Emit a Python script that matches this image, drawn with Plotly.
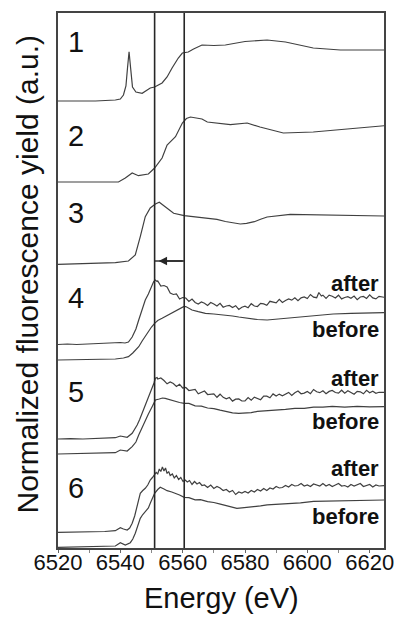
import plotly.graph_objects as go

# ---------------- data (energy in eV, stacked normalized yield in a.u.) ----------------
e1 = [6520, 6532, 6538.4, 6540.0, 6541.0, 6541.8, 6542.3, 6542.8, 6543.3, 6543.9, 6545.0, 6547.0,
      6549.6, 6551.0, 6553.4, 6555.0, 6556.6, 6558.6, 6559.9, 6561.8, 6563.5, 6566.2, 6570, 6573.7,
      6580, 6587.1, 6593, 6601.9, 6610.6, 6624.7]
s1 = [447, 447, 448, 449, 453, 462, 480, 496.3, 480, 461, 456, 454.7,
      460, 461, 465, 471, 480, 490, 495, 496, 499, 503, 502.5, 503,
      506.5, 508, 506, 500, 498, 498]

e2 = [6520, 6539.4, 6541.6, 6543.8, 6545.8, 6549.0, 6551.0, 6553.4, 6555.0, 6557.7, 6559.9, 6561.2,
      6562.5, 6566.2, 6567.9, 6571, 6575.3, 6580.7, 6584.8, 6592.3, 6601.9, 6612.8, 6624.7]
s2 = [366, 366, 370, 375, 372.3, 374, 380, 390, 403, 411.3, 425, 429.5,
      431, 429, 426, 425, 423.3, 425, 421, 415, 416, 419, 422.3]

e3 = [6520, 6538.4, 6542.6, 6544.8, 6546.4, 6548.0, 6549.6, 6551.25, 6552.5, 6554.4, 6557.1, 6560.5,
      6566.2, 6571, 6573.7, 6576, 6578.5, 6580.5, 6583, 6585, 6587.1, 6594.5, 6608.3, 6624.7]
s3 = [283.7, 285.3, 287, 293, 311.3, 331.3, 340, 344, 345.7, 341.3, 334.7, 332.3,
      330.7, 328.7, 326.5, 325, 324, 324.6, 326.3, 328.7, 331, 333.7, 333, 332]

e4_after = [6520, 6523, 6526, 6529, 6532, 6535, 6538, 6540, 6541.5, 6542.6, 6543.8, 6545, 6545.9,
            6547, 6548, 6549, 6549.6, 6550.2, 6550.7, 6551.2, 6551.8,
            6552, 6553, 6554, 6555, 6556, 6557, 6558, 6559, 6560, 6561, 6562, 6563, 6564, 6565,
            6566, 6567, 6568, 6569, 6570, 6571, 6572, 6573, 6574, 6575, 6576, 6577, 6578, 6579,
            6580, 6581, 6582, 6583, 6584, 6585, 6586, 6587, 6588, 6589, 6590, 6591, 6592, 6593,
            6594, 6595, 6596, 6597, 6598, 6599, 6600, 6601, 6602, 6603, 6603.7, 6604.5, 6605, 6606,
            6607, 6608, 6609, 6610, 6611, 6612, 6613, 6614, 6615, 6616, 6617, 6618, 6619, 6620,
            6621, 6622, 6623, 6624.7]
s4_after = [203.5, 204, 203.5, 204, 203.8, 204.5, 205, 205.5, 205, 206, 211, 219, 228,
            238, 248, 254, 258, 263, 266.5, 268, 266.5,
            267, 262, 262.5, 261, 255, 253.5, 254, 249, 250.5, 250, 246.5, 249, 245.5, 244,
            246, 244.8, 242.5, 245.5, 244, 242, 244.7, 240.8, 242, 242.5, 240.5, 242.3, 238.5, 240.8,
            241.8, 240.3, 244.3, 242, 241.5, 244.6, 244.1, 242.7, 246.7, 246.2, 245.1, 248.6, 245.5, 247.5,
            249, 247.9, 250.3, 247.3, 250.2, 251.1, 249.5, 253.5, 250.9, 250.3, 255.5, 252, 252.8, 249.6,
            252.9, 251.7, 250, 252.8, 249.1, 250.5, 251.4, 249.8, 251.9, 248.4, 251, 251.5, 249.5, 253.1,
            250.1, 249.1, 251.7, 250.7]

e4_before = [6520, 6525, 6530, 6535, 6538.4, 6541, 6542.6, 6544, 6545.9, 6547, 6548.6, 6550, 6551,
             6552, 6553.4, 6555, 6557.1, 6559, 6560.3, 6561, 6562, 6563, 6565, 6567.3, 6570, 6573.7,
             6576, 6578, 6581, 6584, 6587.1, 6590, 6594, 6597.8, 6602, 6608.3, 6614, 6619, 6624.7]
s4_before = [188, 188.3, 188, 188.5, 189, 190, 191.3, 195, 201.3, 207, 214.7, 221, 224.7,
             227.5, 229.7, 232.5, 236.3, 239, 241.3, 241.5, 240, 238, 236.3, 234.7, 234, 233,
             232, 231, 229.5, 228.5, 228, 228.8, 230, 231.3, 232.5, 234, 234.6, 235, 235.3]

e5_after = [6520, 6524, 6528, 6532, 6535, 6538.4, 6540, 6541, 6542.2, 6543.8, 6544.6, 6545.4, 6546.2,
            6547, 6547.8, 6548.6, 6549.4, 6550.2, 6550.8, 6551.25, 6551.8,
            6552, 6553, 6554, 6555, 6556, 6557, 6558, 6559, 6560, 6561, 6562, 6563, 6564, 6565,
            6566, 6567, 6568, 6569, 6570, 6571, 6572, 6573, 6574, 6575, 6576, 6577, 6578, 6579,
            6580, 6581, 6582, 6583, 6584, 6585, 6586, 6587, 6588, 6589, 6590, 6591, 6592, 6593,
            6594, 6595, 6596, 6597, 6598, 6599, 6600, 6601, 6602, 6603, 6604, 6605, 6606, 6607,
            6608, 6609, 6610, 6611, 6612, 6613, 6614, 6615, 6616, 6617, 6618, 6619, 6620, 6621,
            6622, 6623, 6624.7]
s5_after = [109, 109.4, 109, 109.3, 109.7, 110.3, 112, 111.2, 110.7, 114.7, 118.5, 123, 128.5,
            134.7, 141.5, 148, 154, 159.7, 165, 169.7, 170.5,
            169, 170, 167.5, 164.2, 166, 164.5, 161.5, 163.8, 160, 160.5, 157.5, 157.8, 158.5, 154.2,
            156, 157, 153.5, 153.5, 154.1, 150.7, 153.8, 150.7, 149.1, 150.5, 146.9, 148.8, 149.1, 147,
            147, 150.5, 147.9, 150.9, 149.8, 148.3, 151.8, 151.8, 150.2, 154.1, 152, 153.9, 152.3, 153.7,
            155.6, 152.5, 155.3, 157, 154.2, 154.9, 156.6, 154.3, 158.5, 156.2, 155.3, 157.2, 154.2, 156.6,
            157.5, 155.5, 154.9, 157.8, 154.8, 157.2, 155.7, 153.7, 156.7, 156.2, 154.2, 157.7, 155.2, 156.7,
            154.7, 155.7, 155.7]

e5_before = [6520, 6524, 6528, 6532, 6535, 6538.4, 6540, 6541, 6542.2, 6543.8, 6545, 6545.9, 6547,
             6548, 6549, 6550.2, 6551.25, 6552.5, 6553.5, 6554.4, 6556, 6557.7, 6559, 6560.5, 6562,
             6564, 6566, 6568, 6570, 6572, 6574, 6576, 6578, 6580, 6582, 6584, 6587, 6590, 6593,
             6596, 6599, 6602, 6605, 6608, 6612, 6616, 6620, 6624.7]
s5_before = [94, 94.3, 94, 94.2, 94.6, 95.3, 98, 97.5, 97, 101.3, 106, 113, 121,
             128, 134, 141.3, 148, 149, 150, 149.7, 148, 146.3, 145.5, 144.7, 144.6,
             142.2, 141.8, 140, 139.4, 137.8, 136.3, 135.2, 134.6, 135.2, 135.3, 136.7, 137.2, 138.3, 138.6,
             139.7, 139.6, 140.8, 140.8, 141.6, 140.9, 141.7, 141.1, 141.3]

e6_after = [6520, 6524, 6528, 6532, 6535, 6538.4, 6540, 6541, 6542.2, 6543, 6543.8, 6544.6, 6545.4,
            6546.4, 6547.2, 6548, 6548.8, 6549.6, 6550.3, 6551, 6551.5, 6552, 6552.5, 6553, 6553.5,
            6554, 6554.5, 6555, 6555.5, 6556, 6556.7, 6557.3, 6558, 6558.7, 6559.4, 6560.1, 6560.8,
            6561.5, 6562.2, 6563, 6563.8, 6564.6, 6565.4, 6566.2, 6567, 6568, 6569, 6570, 6571, 6572,
            6573, 6574, 6575, 6576, 6577, 6578, 6579, 6580, 6581, 6582, 6583, 6584, 6585, 6586, 6587,
            6588, 6589, 6590, 6591, 6592, 6593, 6594, 6595, 6596, 6597, 6598, 6599, 6600, 6601, 6602,
            6603, 6604, 6605, 6606, 6607, 6608, 6609, 6610, 6611, 6612, 6613, 6614, 6615, 6616, 6617,
            6618, 6619, 6620, 6621, 6622, 6623, 6624.7]
s6_after = [15.7, 16, 15.6, 16, 16.5, 17.3, 20.3, 19, 18, 20, 24.7, 32, 41.3,
            54.7, 57.5, 59.7, 63, 68, 70.5, 73, 75.5, 74, 79, 76.5, 81,
            77, 80, 74.5, 76.5, 72.5, 74, 70, 72.5, 68.5, 70.5, 66.5, 68,
            66, 67.5, 63.5, 66.5, 64, 65.5, 62.5, 63, 60.5, 63, 59.5, 61.5, 60,
            57.5, 58.5, 56, 57.5, 53.5, 56, 55, 56.5, 55, 57.5, 56, 58.5, 57, 59.5, 57.5,
            60, 59, 61.5, 60, 60.5, 62.5, 61, 63.5, 62, 62.5, 64.5, 62, 63, 61.5, 64,
            63, 62, 64.5, 62, 63.5, 61.5, 63, 64.5, 62, 62.5, 61, 63.5, 62, 63, 64.5,
            61.5, 62.5, 63.5, 61, 63, 62, 62.5]

e6_before = [6520, 6524, 6528, 6532, 6535, 6538.4, 6540, 6541, 6541.6, 6543.2, 6544, 6544.8, 6545.6,
             6546.4, 6547.2, 6548, 6549, 6549.6, 6550.3, 6551, 6552, 6552.8, 6554, 6555, 6556.5,
             6557.7, 6559, 6560.5, 6562, 6564, 6565.7, 6568, 6570, 6572.1, 6574, 6576, 6577.4, 6579,
             6581, 6583, 6585, 6587.1, 6590, 6593, 6597.8, 6602, 6608.3, 6614, 6619, 6624.7]
s6_before = [0.7, 1, 0.8, 1, 1.3, 2, 5.3, 4, 3, 5.3, 9, 14.7, 22,
             29.7, 33.5, 36.3, 40, 44.7, 50, 54.7, 58.5, 60.7, 59, 57.3, 56,
             54.7, 53, 50.7, 50.4, 48.2, 48.3, 46.3, 45.5, 43.8, 42.3, 40.4, 39.7, 40.2,
             40.6, 41.7, 42.1, 43.2, 43.6, 44.7, 45.2, 46.7, 47.2, 47.8, 48.1, 48]

sample_labels = ["1", "2", "3", "4", "5", "6"]
label_y = [506, 412, 335, 250, 156, 60]
state_labels = ["after", "before", "after", "before", "after", "before"]
state_y = [264.7, 218.7, 169.7, 126.3, 79.7, 31.3]
marker_energies = [6551.0, 6560.5]
arrow_y = 287

x_ticks = [6520, 6540, 6560, 6580, 6600, 6620]

# ---------------- figure ----------------
FONT = "Liberation Sans, Arial, sans-serif"
LINE = "#404040"

fig = go.Figure()
for e, s in [(e1, s1), (e2, s2), (e3, s3), (e4_after, s4_after), (e4_before, s4_before),
             (e5_after, s5_after), (e5_before, s5_before), (e6_after, s6_after), (e6_before, s6_before)]:
    fig.add_trace(go.Scatter(x=e, y=s, mode="lines", line=dict(color=LINE, width=1.2),
                             showlegend=False, hoverinfo="skip"))

for xe in marker_energies:
    fig.add_shape(type="line", xref="x", yref="paper", x0=xe, x1=xe, y0=0, y1=1,
                  line=dict(color="#262626", width=1.6))

fig.add_shape(type="line", xref="x", yref="y", x0=marker_energies[0], x1=marker_energies[1],
              y0=arrow_y, y1=arrow_y, line=dict(color="#262626", width=1.4))
fig.add_annotation(x=marker_energies[0] + 1.3, y=arrow_y, ax=marker_energies[1], ay=arrow_y,
                   xref="x", yref="y", axref="x", ayref="y", text="", showarrow=True,
                   arrowhead=2, arrowsize=1.2, arrowwidth=1.4, arrowcolor="#262626")

for t, yv in zip(sample_labels, label_y):
    fig.add_annotation(x=6525.8, y=yv, xref="x", yref="y", text=t, showarrow=False,
                       font=dict(family=FONT, size=29, color="#111"), xanchor="center",
                       yanchor="middle")

for t, yv in zip(state_labels, state_y):
    fig.add_annotation(x=6623.5, y=yv, xref="x", yref="y", text="<b>%s</b>" % t, showarrow=False,
                       font=dict(family=FONT, size=22, color="#111"), xanchor="right",
                       yanchor="middle")

fig.add_annotation(x=0, y=0.5, xref="paper", yref="paper", xshift=-31, yshift=6,
                   text="Normalized fluorescence yield (a.u.)", textangle=-90, showarrow=False,
                   font=dict(family=FONT, size=30, color="#111"), xanchor="center",
                   yanchor="middle")
fig.add_annotation(x=0.5, y=0, xref="paper", yref="paper", yshift=-50,
                   text="Energy (eV)", showarrow=False,
                   font=dict(family=FONT, size=29, color="#111"), xanchor="center",
                   yanchor="middle")

fig.update_layout(
    width=395, height=618,
    margin=dict(l=58, r=11, t=13, b=70, pad=0),
    paper_bgcolor="white", plot_bgcolor="white",
    font=dict(family=FONT, color="#111"),
    xaxis=dict(range=[6520, 6624.6], tickvals=x_ticks, ticks="outside", ticklen=3,
               tickcolor="#666", tickfont=dict(family=FONT, size=22, color="#111"),
               ticklabelstandoff=-9,
               showgrid=False, zeroline=False, showline=True, linecolor="#444", linewidth=1.5,
               mirror=True, automargin=False,
               minor=dict(dtick=10, tick0=6520, ticks="outside", ticklen=3, tickcolor="#888")),
    yaxis=dict(range=[0, 535], showticklabels=False, ticks="", showgrid=False, zeroline=False,
               showline=True, linecolor="#444", linewidth=1.5, mirror=True, automargin=False),
)

fig.write_html("out.html", config={"displayModeBar": False},
               post_script="document.body.style.margin='0';")
